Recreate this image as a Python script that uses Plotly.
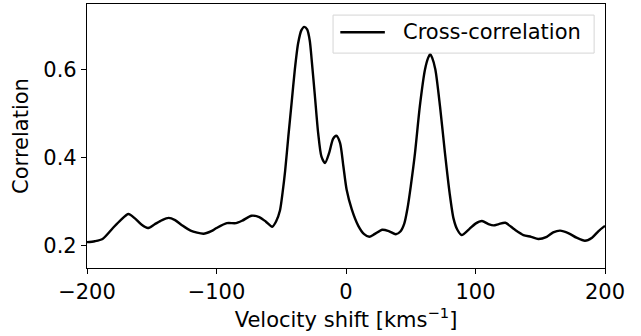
import plotly.graph_objects as go

# Cross-correlation function versus velocity shift
velocity = [
    -200, -194, -188, -180, -174, -168, -163, -158, -153, -148, -142, -137, -132,
    -127, -120, -110, -104, -100, -92, -85, -80, -73, -67, -62, -57, -54, -51,
    -49, -47, -44.5, -42, -39.5, -37, -34.5, -32.3, -30, -28, -26.5, -24, -21.5, -19,
    -16.2, -13, -10, -7.5, -4.6, -2, 0.5, 4.4, 9.5, 14, 18, 22, 28, 33, 38.5, 42,
    45, 47.5, 50, 53.3, 57, 61, 63.5, 65, 66.5, 69, 72.6, 76.4, 80, 83, 86, 89.3,
    95, 100, 105, 110, 114, 118, 123, 130, 137, 143, 148.5, 155, 160, 165.3, 172,
    178, 184.5, 190, 195, 200,
]
correlation = [
    0.208, 0.210, 0.215, 0.240, 0.258, 0.272, 0.262, 0.248, 0.240, 0.248, 0.258,
    0.263, 0.258, 0.247, 0.234, 0.227, 0.233, 0.240, 0.251, 0.251, 0.257, 0.268,
    0.265, 0.255, 0.243, 0.255, 0.280, 0.320, 0.370, 0.449, 0.525, 0.601, 0.660,
    0.690, 0.698, 0.692, 0.667, 0.623, 0.540, 0.456, 0.403, 0.388, 0.411, 0.443, 0.450,
    0.434, 0.380, 0.327, 0.283, 0.245, 0.226, 0.220, 0.226, 0.236, 0.233, 0.226,
    0.232, 0.250, 0.285, 0.335, 0.411, 0.517, 0.601, 0.628, 0.636, 0.628, 0.601,
    0.517, 0.411, 0.320, 0.262, 0.236, 0.224, 0.237, 0.250, 0.256, 0.249, 0.246,
    0.249, 0.252, 0.237, 0.224, 0.220, 0.215, 0.220, 0.230, 0.234, 0.228, 0.218,
    0.211, 0.218, 0.233, 0.245,
]
series_name = "Cross-correlation"
x_ticks = [-200, -100, 0, 100, 200]
x_tick_text = ["\u2212200", "\u2212100", "0", "100", "200"]
y_ticks = [0.2, 0.4, 0.6]
y_tick_text = ["0.2", "0.4", "0.6"]

FONT = "DejaVu Sans"
FS = 21

fig = go.Figure()
fig.add_trace(go.Scatter(
    x=velocity, y=correlation, mode="lines",
    line=dict(color="black", width=2.4, shape="spline", smoothing=0.7),
    name=series_name, showlegend=False,
))

# Legend box drawn in axes-fraction coordinates (upper right)
fig.add_shape(type="rect", xref="x domain", yref="y domain",
              x0=0.475, x1=0.979, y0=0.814, y1=0.958,
              line=dict(color="#d5d5d5", width=1), fillcolor="rgba(255,255,255,0.8)")
fig.add_shape(type="line", xref="x domain", yref="y domain",
              x0=0.489, x1=0.575, y0=0.893, y1=0.893,
              line=dict(color="black", width=2.4))
fig.add_annotation(xref="x domain", yref="y domain", x=0.607, y=0.893,
                   xanchor="left", yanchor="middle", showarrow=False,
                   text=series_name, font=dict(family=FONT, size=FS, color="black"))

axis_common = dict(
    showline=True, linecolor="black", linewidth=1.2, mirror=True,
    ticks="outside", ticklen=5, tickwidth=1.2, tickcolor="black",
    showgrid=False, zeroline=False,
    tickfont=dict(family=FONT, size=FS, color="black"),
)

fig.update_layout(
    width=641, height=336,
    margin=dict(l=87, r=36, t=4, b=68, autoexpand=False),
    paper_bgcolor="white", plot_bgcolor="white",
    font=dict(family=FONT, color="black"),
    xaxis=dict(
        range=[-200, 200], tickvals=x_ticks, ticktext=x_tick_text,
        title=dict(text="Velocity shift [kms<sup>\u22121</sup>]",
                   font=dict(family=FONT, size=FS), standoff=8),
        **axis_common,
    ),
    yaxis=dict(
        range=[0.149, 0.750], tickvals=y_ticks, ticktext=y_tick_text,
        title=dict(text="Correlation", font=dict(family=FONT, size=FS), standoff=8),
        **axis_common,
    ),
)

fig.write_html("out.html")
